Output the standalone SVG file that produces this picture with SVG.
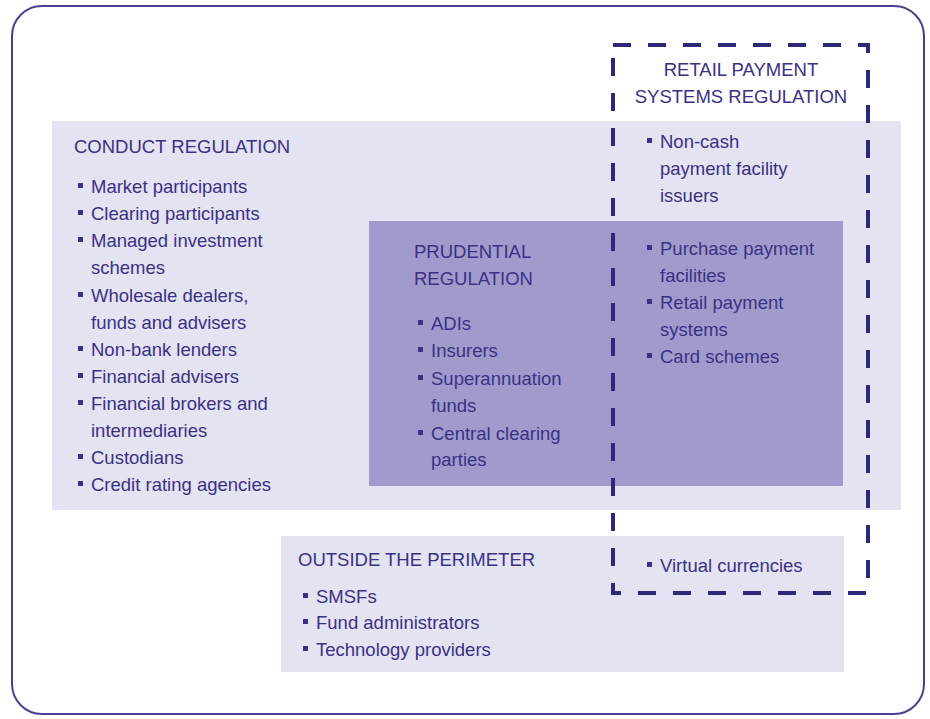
<svg xmlns="http://www.w3.org/2000/svg" width="930" height="719" viewBox="0 0 930 719">
<style>
.t{font-family:"Liberation Sans",Arial,sans-serif;font-size:18.5px;fill:#3b3183}
.b{fill:#3b3183}
</style>
<defs>
<rect id="bul" width="5" height="5" class="b"/>
</defs>
<rect x="0" y="0" width="930" height="719" fill="#ffffff"/>
<g id="frame">
<rect x="12" y="6" width="912" height="708" rx="30" ry="30" fill="#fefeff" stroke="#4a3e92" stroke-width="2"/>
</g>
<g id="conduct">
<rect x="52" y="121" width="849" height="389" fill="#e4e3f1"/>
<text class="t" x="74" y="153">CONDUCT REGULATION</text>
<use href="#bul" x="78" y="183"/><text class="t" x="91" y="193">Market participants</text>
<use href="#bul" x="78" y="210"/><text class="t" x="91" y="220">Clearing participants</text>
<use href="#bul" x="78" y="237"/><text class="t" x="91" y="247">Managed investment</text>
<text class="t" x="91" y="274">schemes</text>
<use href="#bul" x="78" y="292"/><text class="t" x="91" y="302">Wholesale dealers,</text>
<text class="t" x="91" y="329">funds and advisers</text>
<use href="#bul" x="78" y="346"/><text class="t" x="91" y="356">Non-bank lenders</text>
<use href="#bul" x="78" y="373"/><text class="t" x="91" y="383">Financial advisers</text>
<use href="#bul" x="78" y="400"/><text class="t" x="91" y="410">Financial brokers and</text>
<text class="t" x="91" y="437">intermediaries</text>
<use href="#bul" x="78" y="454"/><text class="t" x="91" y="464">Custodians</text>
<use href="#bul" x="78" y="481"/><text class="t" x="91" y="491">Credit rating agencies</text>
</g>
<g id="prudential">
<rect x="369" y="221" width="474" height="265" fill="#a19bcd"/>
<text class="t" x="414" y="258">PRUDENTIAL</text>
<text class="t" x="414" y="285">REGULATION</text>
<use href="#bul" x="418" y="320"/><text class="t" x="431" y="330">ADIs</text>
<use href="#bul" x="418" y="347"/><text class="t" x="431" y="357">Insurers</text>
<use href="#bul" x="418" y="375"/><text class="t" x="431" y="385">Superannuation</text>
<text class="t" x="431" y="412">funds</text>
<use href="#bul" x="418" y="430"/><text class="t" x="431" y="440">Central clearing</text>
<text class="t" x="431" y="466">parties</text>
</g>
<g id="outside">
<rect x="281" y="536" width="563" height="136" fill="#e4e3f1"/>
<text class="t" x="298" y="566">OUTSIDE THE PERIMETER</text>
<use href="#bul" x="303" y="593"/><text class="t" x="316" y="603">SMSFs</text>
<use href="#bul" x="303" y="619"/><text class="t" x="316" y="629">Fund administrators</text>
<use href="#bul" x="303" y="646"/><text class="t" x="316" y="656">Technology providers</text>
</g>
<g id="retail">
<rect x="613" y="45" width="255" height="548" fill="none" stroke="#2d2877" stroke-width="4" stroke-dasharray="18 17"/>
<text class="t" x="741" y="76" text-anchor="middle">RETAIL PAYMENT</text>
<text class="t" x="741" y="103" text-anchor="middle">SYSTEMS REGULATION</text>
<use href="#bul" x="647" y="138"/><text class="t" x="660" y="148">Non-cash</text>
<text class="t" x="660" y="175">payment facility</text>
<text class="t" x="660" y="202">issuers</text>
<use href="#bul" x="647" y="245"/><text class="t" x="660" y="255">Purchase payment</text>
<text class="t" x="660" y="282">facilities</text>
<use href="#bul" x="647" y="299"/><text class="t" x="660" y="309">Retail payment</text>
<text class="t" x="660" y="336">systems</text>
<use href="#bul" x="647" y="353"/><text class="t" x="660" y="363">Card schemes</text>
<use href="#bul" x="647" y="562"/><text class="t" x="660" y="572">Virtual currencies</text>
</g>
</svg>
